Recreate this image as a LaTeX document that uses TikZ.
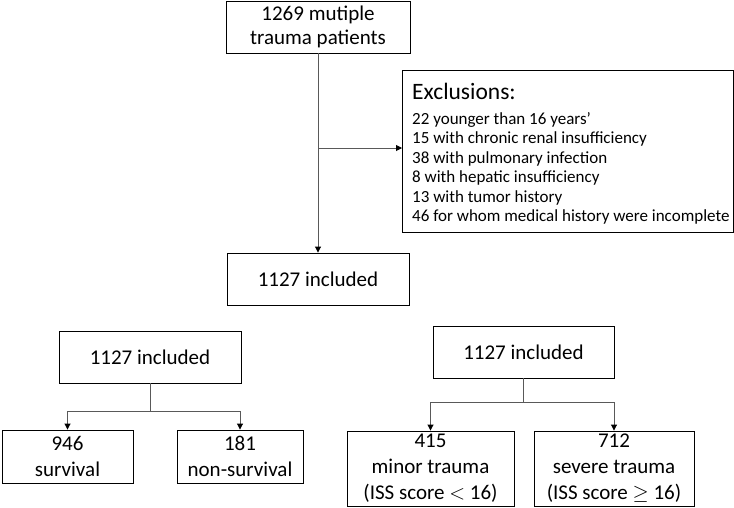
\documentclass[tikz,border=0pt]{standalone}
\usepackage{fontspec}
\setmainfont{Carlito}
\usetikzlibrary{arrows.meta}
\begin{document}
\begin{tikzpicture}[x=1pt,y=-1pt,
  box/.style={draw=black, line width=0.9pt, rectangle, align=center, inner sep=0pt, font=\fontsize{21}{26}\selectfont},
  conn/.style={draw=black!65, line width=0.9pt},
  arr/.style={conn, -{Triangle[length=6pt,width=6pt,color=black]}},
  plain/.style={anchor=base west, inner sep=0pt}
]
\useasboundingbox (0,0) rectangle (734,507);

\node[box, minimum width=184, minimum height=52, font=\fontsize{21}{24}\selectfont] (top) at (318,27) {1269 mutiple\\trauma patients};
\node[box, minimum width=182, minimum height=52] (incl) at (318,279) {1127 included};

\node[draw=black, line width=0.9pt, minimum width=331, minimum height=162, anchor=north west, inner sep=0pt] (excl) at (402,70) {};
\node[plain, font=\fontsize{23.5}{27}\selectfont] (exclt) at (412,99) {Exclusions:};
\node[plain, font=\fontsize{17}{19.5}\selectfont] (excll) at (412,124) {\begin{tabular}[t]{@{}l@{}}
22 younger than 16 years’\\
15 with chronic renal insufficiency\\
38 with pulmonary infection\\
8 with hepatic insufficiency\\
13 with tumor history\\
46 for whom medical history were incomplete
\end{tabular}};

\node[box, minimum width=182, minimum height=52] (linc) at (150,357) {1127 included};
\node[box, minimum width=131, minimum height=53] (surv) at (67.5,456.5) {946\\survival};
\node[box, minimum width=126, minimum height=53] (nsurv) at (240,456.5) {181\\non-survival};

\node[box, minimum width=181, minimum height=52] (rinc) at (523.5,352) {1127 included};
\node[box, minimum width=167, minimum height=75] (minor) at (430.5,468.5) {415\\minor trauma\\(ISS score $<$ 16)};
\node[box, minimum width=160, minimum height=75] (severe) at (614,468.5) {712\\severe trauma\\(ISS score $\geq$ 16)};

\draw[arr] (top.south) -- (incl.north);
\coordinate (j1) at (318,148);
\draw[arr] (j1) -- (j1 -| excl.west);

\draw[conn] (linc.south) -- ++(0,28) coordinate (j2);
\draw[arr] (j2) -| (surv.north);
\draw[arr] (j2) -| (nsurv.north);

\draw[conn] (rinc.south) -- ++(0,24) coordinate (j3);
\draw[arr] (j3) -| (minor.north);
\draw[arr] (j3) -| (severe.north);
\end{tikzpicture}
\end{document}
